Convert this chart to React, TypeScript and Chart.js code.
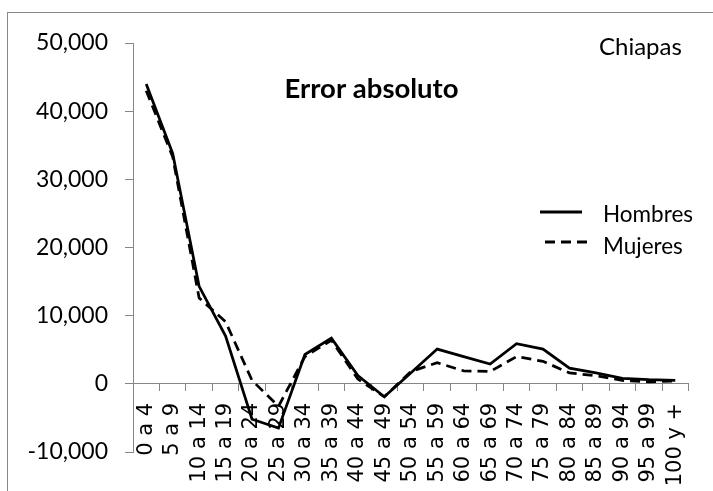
import React, { useEffect, useRef } from "react";
import { Chart, registerables } from "chart.js";

Chart.register(...registerables);

const categories = [
  "0 a 4", "5 a 9", "10 a 14", "15 a 19", "20 a 24", "25 a 29", "30 a 34",
  "35 a 39", "40 a 44", "45 a 49", "50 a 54", "55 a 59", "60 a 64", "65 a 69",
  "70 a 74", "75 a 79", "80 a 84", "85 a 89", "90 a 94", "95 a 99", "100 y +",
];
const hombres = [
  44000, 33800, 14300, 7000, -5200, -6500, 4300, 6700, 1200, -1900, 1600,
  5100, 4000, 2900, 5900, 5100, 2300, 1600, 800, 600, 500,
];
const mujeres = [
  43000, 33300, 12600, 9100, 500, -3300, 4000, 6400, 700, -1900, 1800,
  3100, 1900, 1800, 4000, 3300, 1600, 1200, 500, 300, 400,
];
const yMin = -10000;
const yMax = 50000;
const yStep = 10000;
const titleText = "Error absoluto";
const regionText = "Chiapas";
const seriesNames = ["Hombres", "Mujeres"];

const FONT = "Lato";
const XFONT = "'DejaVu Sans'";

const overlayPlugin = {
  id: "overlayText",
  afterDraw(chart: any) {
    const ctx = chart.ctx;
    ctx.save();
    ctx.fillStyle = "#000";
    ctx.textBaseline = "alphabetic";
    ctx.font = `bold 27.5px ${FONT}`;
    ctx.textAlign = "center";
    ctx.fillText(titleText, 371.5, 98);
    ctx.font = `24px ${FONT}`;
    ctx.textAlign = "left";
    ctx.fillText(regionText, 599, 55);
    const lineYs = [212, 242];
    const textYs = [221.5, 254];
    const ends = [582, 587];
    chart.data.datasets.forEach((ds: any, i: number) => {
      ctx.strokeStyle = ds.borderColor;
      ctx.lineWidth = 3;
      ctx.setLineDash(ds.borderDash || []);
      ctx.beginPath();
      ctx.moveTo(i === 0 ? 540 : 545, lineYs[i]);
      ctx.lineTo(ends[i], lineYs[i]);
      ctx.stroke();
      ctx.setLineDash([]);
      ctx.font = `22.5px ${FONT}`;
      ctx.fillText(ds.label, 603, textYs[i]);
    });
    ctx.restore();
  },
};

export default function App() {
  const ref = useRef<HTMLCanvasElement | null>(null);
  useEffect(() => {
    if (!ref.current) return;
    const chart = new Chart(ref.current, {
      type: "line",
      data: {
        labels: categories,
        datasets: [
          {
            label: seriesNames[0],
            data: hombres,
            borderColor: "#000",
            borderWidth: 2.75,
            pointRadius: 0,
            tension: 0,
            fill: false,
          },
          {
            label: seriesNames[1],
            data: mujeres,
            borderColor: "#000",
            borderWidth: 2.75,
            borderDash: [10, 6],
            pointRadius: 0,
            tension: 0,
            fill: false,
          },
        ],
      },
      options: {
        responsive: false,
        animation: false,
        devicePixelRatio: 1,
        layout: { padding: { top: 43, bottom: 39, left: 0, right: 22 } },
        plugins: {
          legend: { display: false },
          title: { display: false },
          tooltip: { enabled: false },
        },
        scales: {
          x: {
            type: "category",
            position: { y: 0 } as any,
            offset: true,
            grid: {
              offset: true,
              drawOnChartArea: false,
              drawTicks: true,
              tickLength: 7,
              color: "#868686",
            },
            border: { display: true, color: "#868686", width: 1 },
            ticks: {
              autoSkip: false,
              minRotation: 90,
              maxRotation: 90,
              padding: 12,
              color: "#000",
              font: { family: XFONT, size: 21 },
            },
          },
          y: {
            position: "left",
            min: yMin,
            max: yMax,
            afterFit(scale: any) {
              scale.width = 133;
            },
            grid: {
              drawOnChartArea: false,
              drawTicks: true,
              tickLength: 8,
              color: "#868686",
            },
            border: { display: true, color: "#868686", width: 1 },
            ticks: {
              stepSize: yStep,
              padding: 17,
              color: "#000",
              font: { family: FONT, size: 23 },
              callback: (v: any) => Number(v).toLocaleString("en-US"),
            },
          },
        },
      },
      plugins: [overlayPlugin],
    });
    return () => chart.destroy();
  }, []);

  return (
    <div style={{ position: "fixed", left: 0, top: 0, width: 713, height: 491, background: "#fff", overflow: "hidden" }}>
      <div
        style={{
          position: "absolute",
          left: 7,
          top: 12,
          width: 760,
          height: 560,
          borderLeft: "1px solid #888",
          borderTop: "1px solid #888",
        }}
      />
      <canvas
        ref={ref}
        width={713}
        height={491}
        style={{ position: "absolute", left: 0, top: 0, width: 713, height: 491 }}
      />
    </div>
  );
}
